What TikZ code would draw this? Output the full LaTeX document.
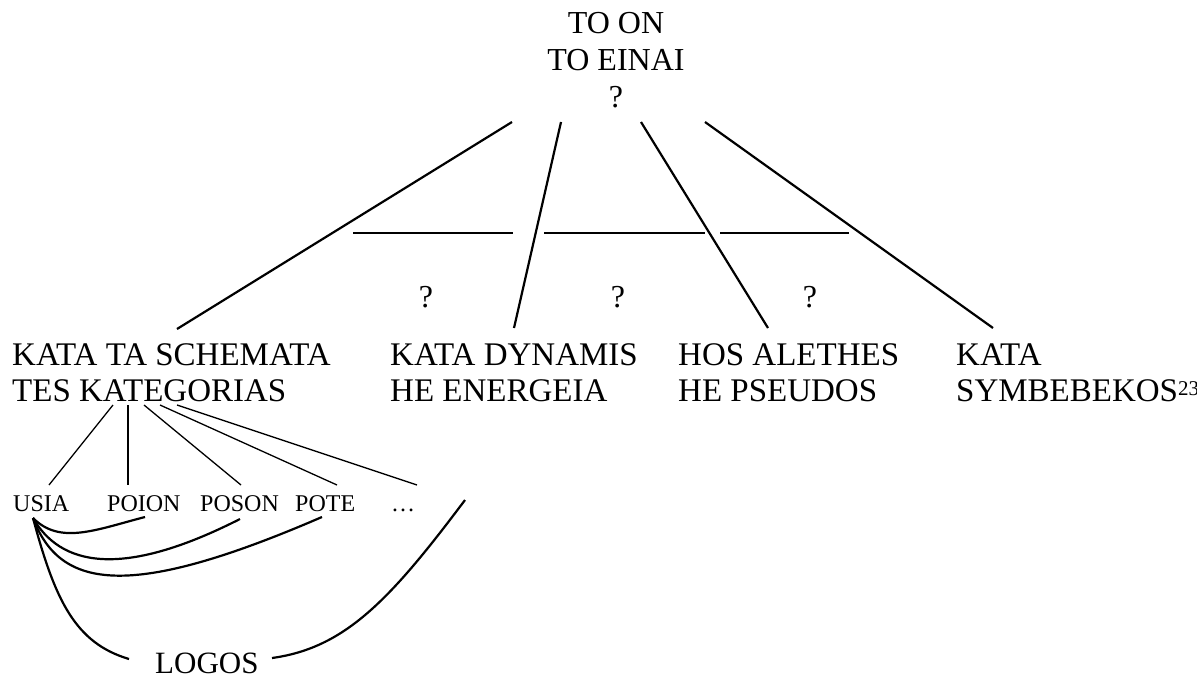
\documentclass[tikz,border=0pt]{standalone}
\usepackage{fontspec}
\setmainfont{Liberation Serif}
\newcommand\twoln[2]{\vtop{\baselineskip=36pt\hbox{#1}\hbox{#2}}}
\newcommand\ctrbox[1]{\hbox to 0pt{\hss #1\hss}}
\begin{document}
\begin{tikzpicture}[x=1pt,y=-1pt,
  lbl/.style={inner sep=0pt, anchor=base west, font=\fontsize{33}{36}\selectfont},
  toplbl/.style={inner sep=0pt, anchor=base, font=\fontsize{32}{37}\selectfont},
  qmark/.style={inner sep=0pt, anchor=base, font=\fontsize{32}{36}\selectfont},
  sml/.style={inner sep=0pt, anchor=base west, font=\fontsize{24}{28}\selectfont},
  logo/.style={inner sep=0pt, anchor=base west, font=\fontsize{31}{36}\selectfont},
  mainln/.style={line width=2.2pt},
  subln/.style={line width=1.3pt},
  crv/.style={line width=2.2pt}]
\useasboundingbox (0,0) rectangle (1197,680);
% texts
\node[toplbl] (top) at (616,33) {\vtop{\baselineskip=37pt\ctrbox{TO ON}\ctrbox{TO EINAI}\ctrbox{?}}};
\node[lbl] (kat) at (12,365) {\twoln{KATA TA SCHEMATA}{TES KATEGORIAS}};
\node[lbl] (dyn) at (390,365) {\twoln{KATA DYNAMIS}{HE ENERGEIA}};
\node[lbl] (hos) at (678,365) {\twoln{HOS ALETHES}{HE PSEUDOS}};
\node[lbl] (sym) at (956,365) {\twoln{KATA}{SYMBEBEKOS\raisebox{6pt}{\fontsize{21}{21}\selectfont 23}}};
\node[qmark] (q1) at (426,307) {?};
\node[qmark] (q2) at (618,307) {?};
\node[qmark] (q3) at (810,307) {?};
\node[sml] (usia) at (13,511) {USIA};
\node[sml] (poion) at (107,511) {POION};
\node[sml] (poson) at (200,511) {POSON};
\node[sml] (pote) at (295,511) {POTE};
\node[sml] (dots) at (391,511) {\char"2026};
\node[logo] (logos) at (155,673) {LOGOS};
% coordinates
\coordinate (a1) at (512,122); \coordinate (b1) at (177,329);
\coordinate (a2) at (561,122); \coordinate (b2) at (514,328);
\coordinate (a3) at (641,122); \coordinate (b3) at (768,328);
\coordinate (a4) at (705,122); \coordinate (b4) at (993,328);
\coordinate (h1a) at (353,233); \coordinate (h1b) at (513,233);
\coordinate (h2a) at (544,233); \coordinate (h2b) at (705,233);
\coordinate (h3a) at (720,233); \coordinate (h3b) at (849,233);
\coordinate (s1) at (113,405); \coordinate (e1) at (49,485);
\coordinate (s2) at (128,405); \coordinate (e2) at (128,485);
\coordinate (s3) at (144,405); \coordinate (e3) at (241,485);
\coordinate (s4) at (160,405); \coordinate (e4) at (337,485);
\coordinate (s5) at (177,405); \coordinate (e5) at (417,485);
\coordinate (u) at (33,518);
\coordinate (c1) at (145,517);
\coordinate (c2) at (240,519);
\coordinate (c3) at (322,517);
\coordinate (lg1) at (129,659);
\coordinate (lg2) at (272,658);
\coordinate (lgt) at (465,500);
% main lines
\draw[mainln] (a1) -- (b1);
\draw[mainln] (a2) -- (b2);
\draw[mainln] (a3) -- (b3);
\draw[mainln] (a4) -- (b4);
\draw[mainln] (h1a) -- (h1b);
\draw[mainln] (h2a) -- (h2b);
\draw[mainln] (h3a) -- (h3b);
% category lines
\draw[subln] (s1) -- (e1);
\draw[subln] (s2) -- (e2);
\draw[subln] (s3) -- (e3);
\draw[subln] (s4) -- (e4);
\draw[subln] (s5) -- (e5);
% curves
\draw[crv] (u) .. controls (60,545) and (95,530) .. (c1);
\draw[crv] (u) .. controls (60,565) and (120,580) .. (c2);
\draw[crv] (u) .. controls (60,590) and (130,600) .. (c3);
\draw[crv] (u) .. controls (55,600) and (75,643) .. (lg1);
\draw[crv] (lg2) .. controls (345,648) and (390,600) .. (lgt);
\end{tikzpicture}
\end{document}
